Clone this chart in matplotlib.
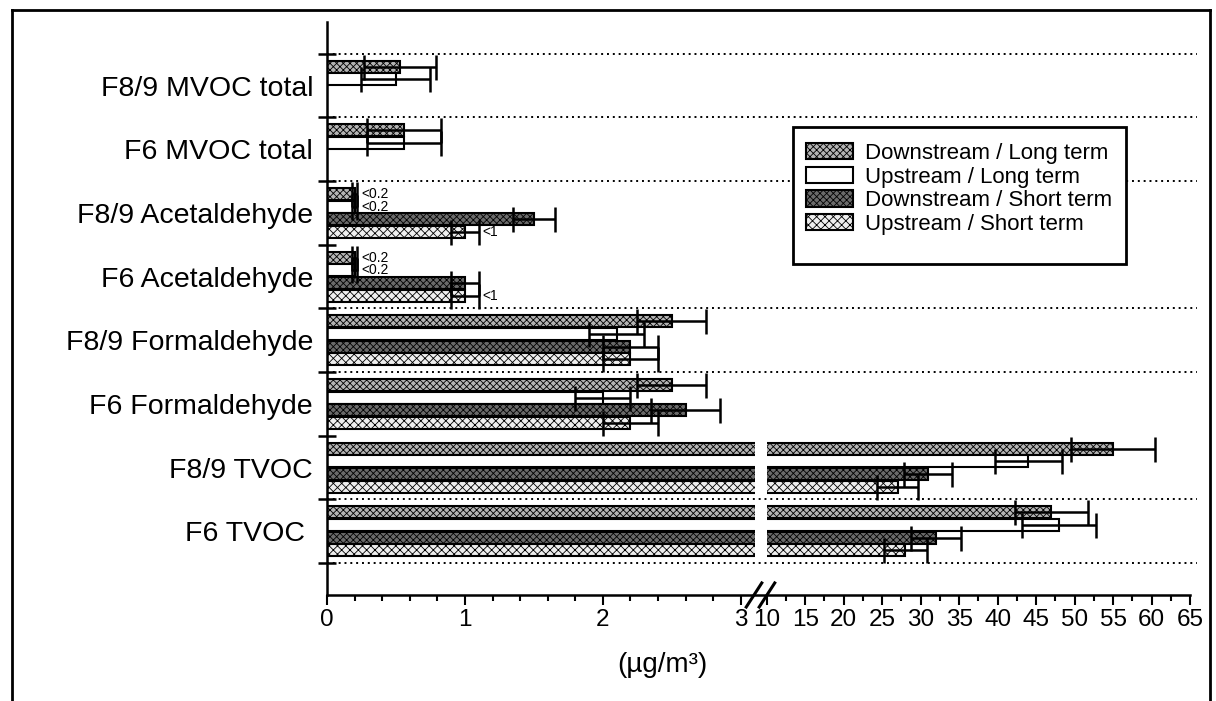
import numpy as np
import matplotlib
matplotlib.use("Agg")
import matplotlib.pyplot as plt
from matplotlib.patches import Rectangle
from matplotlib.lines import Line2D

plt.rcParams['font.family'] = ['Liberation Sans', 'DejaVu Sans']
plt.rcParams['hatch.linewidth'] = 0.6

categories = ["F8/9 MVOC total", "F6 MVOC total", "F8/9 Acetaldehyde", "F6 Acetaldehyde",
              "F8/9 Formaldehyde", "F6 Formaldehyde", "F8/9 TVOC", "F6 TVOC "]

down_long = [0.53, 0.56, 0.2, 0.2, 2.5, 2.5, 55, 47]
down_long_err = [0.26, 0.27, 0.02, 0.02, 0.25, 0.25, 5.5, 4.7]
up_long = [0.5, 0.56, 0.2, 0.2, 2.1, 2.0, 44, 48]
up_long_err = [0.25, 0.27, 0.02, 0.02, 0.2, 0.2, 4.4, 4.8]
down_short = [np.nan, np.nan, 1.5, 1.0, 2.2, 2.6, 31, 32]
down_short_err = [np.nan, np.nan, 0.15, 0.1, 0.2, 0.25, 3.1, 3.2]
up_short = [np.nan, np.nan, 1.0, 1.0, 2.2, 2.2, 27, 28]
up_short_err = [np.nan, np.nan, 0.1, 0.1, 0.2, 0.2, 2.7, 2.8]

series_labels = ["Downstream / Long term", "Upstream / Long term",
                 "Downstream / Short term", "Upstream / Short term"]

# "below detection limit" notes: (category, series, text)
notes = [(2, 0, "<0.2"), (2, 1, "<0.2"), (2, 3, "<1"),
         (3, 0, "<0.2"), (3, 1, "<0.2"), (3, 3, "<1")]

major_x = [0, 1, 2, 3, 10, 15, 20, 25, 30, 35, 40, 45, 50, 55, 60, 65]
minor_x = [v / 5 for v in range(1, 15) if v % 5] + [12.5 + 5 * i for i in range(11)]


# broken x axis: 0-3 wide, 10-65 compressed
def fwd(v):
    v = np.asarray(v, float)
    return np.where(v <= 3, 138 * v, np.where(v >= 10, 440 + (v - 10) * 7.7, 414 + (v - 3) * 26 / 7))


def inv(p):
    p = np.asarray(p, float)
    return np.where(p <= 414, p / 138, np.where(p >= 440, 10 + (p - 440) / 7.7, 3 + (p - 414) * 7 / 26))


fig = plt.figure(figsize=(12.16, 7.01), dpi=100)
ax = fig.add_axes([327 / 1216, 1 - 595 / 701, (1190 - 327) / 1216, (595 - 22) / 701])
ax.set_xscale('function', functions=(fwd, inv))
ax.set_xlim(0, 65)
ax.set_ylim(8, -1)

y = np.arange(len(categories))
values = [down_long, up_long, down_short, up_short]
errors = [down_long_err, up_long_err, down_short_err, up_short_err]
styles = [dict(facecolor='#b4b4b4', hatch='xxxxx'),
          dict(facecolor='white'),
          dict(facecolor='#6a6a6a', hatch='xxxxx'),
          dict(facecolor='#eeeeee', hatch='xxxx')]
offsets = [-0.3, -0.1, 0.1, 0.3]

for vals, errs, lab, st, off in zip(values, errors, series_labels, styles, offsets):
    vals = np.array(vals, float)
    ax.barh(y + off, vals, height=0.19, label=lab, edgecolor='black', linewidth=1.5, zorder=2, **st)
    ax.errorbar(vals, y + off, xerr=errs, fmt='none', ecolor='black', elinewidth=1.8,
                capsize=9, capthick=1.8, zorder=3)

for c, s, txt in notes:
    ax.text(values[s][c] + errors[s][c] + 0.03, c + offsets[s], txt, fontsize=10,
            va='center', ha='left', zorder=4)

# white gap where the axis is broken
ax.axvspan(6.77, 10, color='white', zorder=2.2, lw=0)

# dotted separators
grid_at = [-0.5, 0.5, 1.5, 3.5, 4.5, 6.5, 7.5]
ax.hlines(grid_at, 0, 1.008, transform=ax.get_yaxis_transform(), colors='black',
          linestyles=(0, (1, 2)), lw=1.4, clip_on=False, zorder=3)

ax.spines['top'].set_visible(False)
ax.spines['right'].set_visible(False)
ax.spines['left'].set_linewidth(1.8)
ax.spines['bottom'].set_linewidth(1.8)

ax.set_yticks(np.arange(-0.5, 8, 1), labels=[])
ax.set_yticks(y, labels=categories, minor=True)
ax.tick_params(axis='y', which='major', direction='inout', length=13, width=1.8)
ax.tick_params(axis='y', which='minor', length=0, pad=10, labelsize=20.5)

ax.set_xticks(major_x, labels=[str(v) for v in major_x])
ax.set_xticks(minor_x, minor=True)
ax.tick_params(axis='x', which='major', direction='out', length=7, width=1.5, labelsize=17.5, pad=3)
ax.tick_params(axis='x', which='minor', direction='out', length=4, width=1.5)

ax.set_xlabel('(µg/m³)', fontsize=20)
ax.xaxis.set_label_coords(0.389, -0.10)

# break marks
for cx in [0.4948, 0.5098]:
    ax.plot([cx - 0.009, cx + 0.009], [-0.021, 0.021], transform=ax.transAxes,
            color='black', lw=2.2, clip_on=False, zorder=5)

# legend with its own box
box = Rectangle((793 / 1216, 1 - 264 / 701), (1126 - 793) / 1216, (264 - 127) / 701,
                transform=fig.transFigure, facecolor='white', edgecolor='black', lw=2,
                zorder=4, clip_on=False)
ax.add_artist(box)
ax.legend(loc='upper left', bbox_to_anchor=(806 / 1216, 1 - 143 / 701), bbox_transform=fig.transFigure,
          frameon=False, fontsize=16, borderpad=0, borderaxespad=0, handlelength=2.1,
          handleheight=0.75, handletextpad=0.55, labelspacing=0.12)

# outer frame
fig.add_artist(Line2D([12 / 1216, 1210 / 1216], [1 - 10 / 701] * 2, transform=fig.transFigure, color='black', lw=2))
fig.add_artist(Line2D([12 / 1216] * 2, [1 - 10 / 701, 0], transform=fig.transFigure, color='black', lw=2))
fig.add_artist(Line2D([1210 / 1216] * 2, [1 - 10 / 701, 0], transform=fig.transFigure, color='black', lw=2))

fig.savefig('out.png', dpi=100)
